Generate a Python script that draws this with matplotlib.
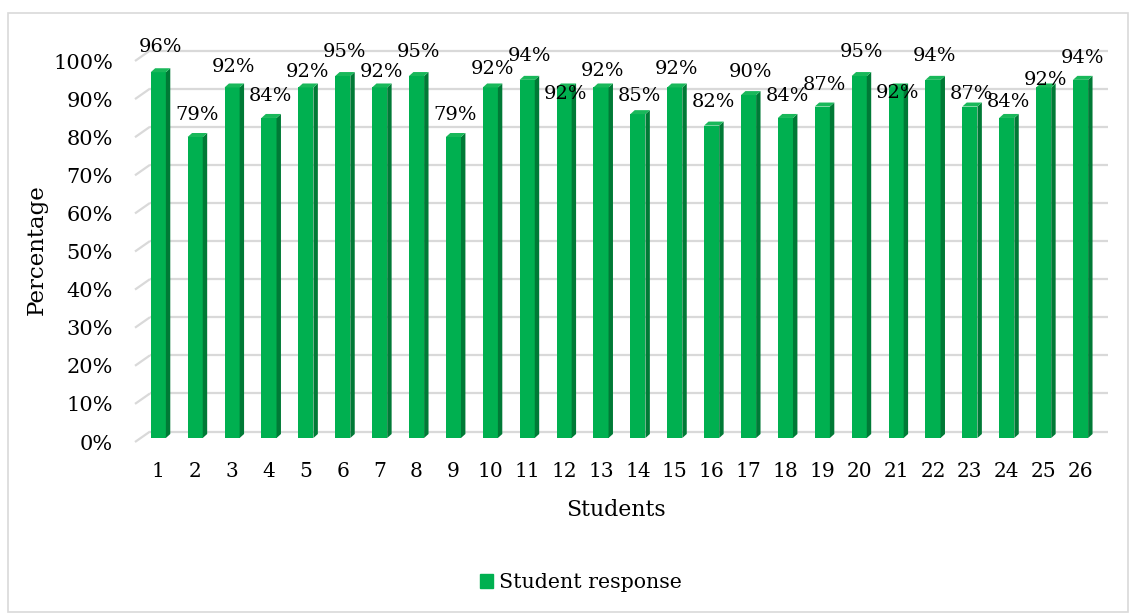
import numpy as np
import matplotlib
matplotlib.use("Agg")
import matplotlib.pyplot as plt
from matplotlib.patches import Patch, Rectangle

# data
students = list(range(1, 27))
response = [96, 79, 92, 84, 92, 95, 92, 95, 79, 92, 94, 92, 92,
            85, 92, 82, 90, 84, 87, 95, 92, 94, 87, 84, 92, 94]
yticks = list(range(0, 101, 10))

# how far (px) each value label sits above its bar top, as excel placed them
label_lift = [25, 22, 20, 22, 15, 24, 15, 24, 22, 18, 24, -7, 16,
              18, 18, 24, 23, 22, 22, 24, -6, 24, 13, 16, 7, 22]

front_col = "#00B050"
side_col = "#007A36"
top_col = "#19B85A"
grid_col = "#D9D9D9"

plt.rcParams["font.family"] = ["DejaVu Serif"]

W, H = 1135, 615
fig = plt.figure(figsize=(W / 100, H / 100), dpi=100)

# axes placed so bars sit where the reference has them
ax_l, ax_r = 120, 1120
ymin, ymax = -3, 106
px_per = 3.81
y0_px = 438
ax_b = y0_px + (0 - ymin) * px_per
ax_t = y0_px - ymax * px_per
ax = fig.add_axes([ax_l / W, 1 - ax_b / H, (ax_r - ax_l) / W, (ax_b - ax_t) / H])

step = 36.89
c1 = 158.3
ax.set_xlim(1 + (ax_l - c1) / step, 1 + (ax_r - c1) / step)
ax.set_ylim(ymin, ymax)

# 3d-ish depth
bw = 0.41
ddx = 0.12
ddy = 1.05
front_dy = -1.05
back_dy = 1.7
x_front = 1 + (135 - c1) / step
x_back = 1 + (150 - c1) / step
x_end = 1 + (1108 - c1) / step

for v in yticks:
    ax.plot([x_front, x_back], [v + front_dy, v + back_dy], color=grid_col, lw=1.6,
            zorder=1, solid_capstyle="butt")
    ax.plot([x_back, x_end], [v + back_dy, v + back_dy], color=grid_col, lw=1.6,
            zorder=1, solid_capstyle="butt")

x = np.array(students, dtype=float)
ax.bar(x, response, width=bw, color=front_col, zorder=3, linewidth=0)
for xi, v in zip(x, response):
    r = xi + bw / 2
    l = xi - bw / 2
    ax.fill([r, r + ddx, r + ddx, r], [0, ddy, v + ddy, v], color=side_col, lw=0, zorder=3)
    ax.fill([l, r, r + ddx, l + ddx], [v, v, v + ddy, v + ddy], color=top_col, lw=0, zorder=3)

for xi, v, lift in zip(x, response, label_lift):
    ax.annotate(f"{v}%", (xi + 0.05, v), xytext=(0, lift * 0.72), textcoords="offset points",
                ha="center", va="center", fontsize=14, color="#000000", zorder=4)

ax.set_xticks(x)
ax.set_xticklabels([str(s) for s in students], fontsize=14.5)
ax.set_yticks([v + front_dy for v in yticks])
ax.set_yticklabels([f"{v}%" for v in yticks], fontsize=15)
ax.tick_params(axis="x", length=0, pad=9)
ax.tick_params(axis="y", length=0, pad=5)
for s in ax.spines.values():
    s.set_visible(False)
ax.patch.set_alpha(0)

fig.text(37 / W, 1 - 250 / H, "Percentage", rotation=90, ha="center", va="center", fontsize=16.5)
fig.text(616 / W, 1 - 510 / H, "Students", ha="center", va="center", fontsize=15.8)

fig.legend(handles=[Patch(color=front_col, label="Student response")], loc="center",
           bbox_to_anchor=(581 / W, 1 - 583 / H), frameon=False, fontsize=14.8,
           handlelength=0.65, handleheight=0.65, handletextpad=0.3)

# outer chart border
fig.patches.append(Rectangle((8 / W, 1 - 612 / H), (1128 - 8) / W, (612 - 13) / H,
                             transform=fig.transFigure, fill=False, edgecolor="#D9D9D9", lw=1.2))

fig.savefig("out.png", dpi=100)
